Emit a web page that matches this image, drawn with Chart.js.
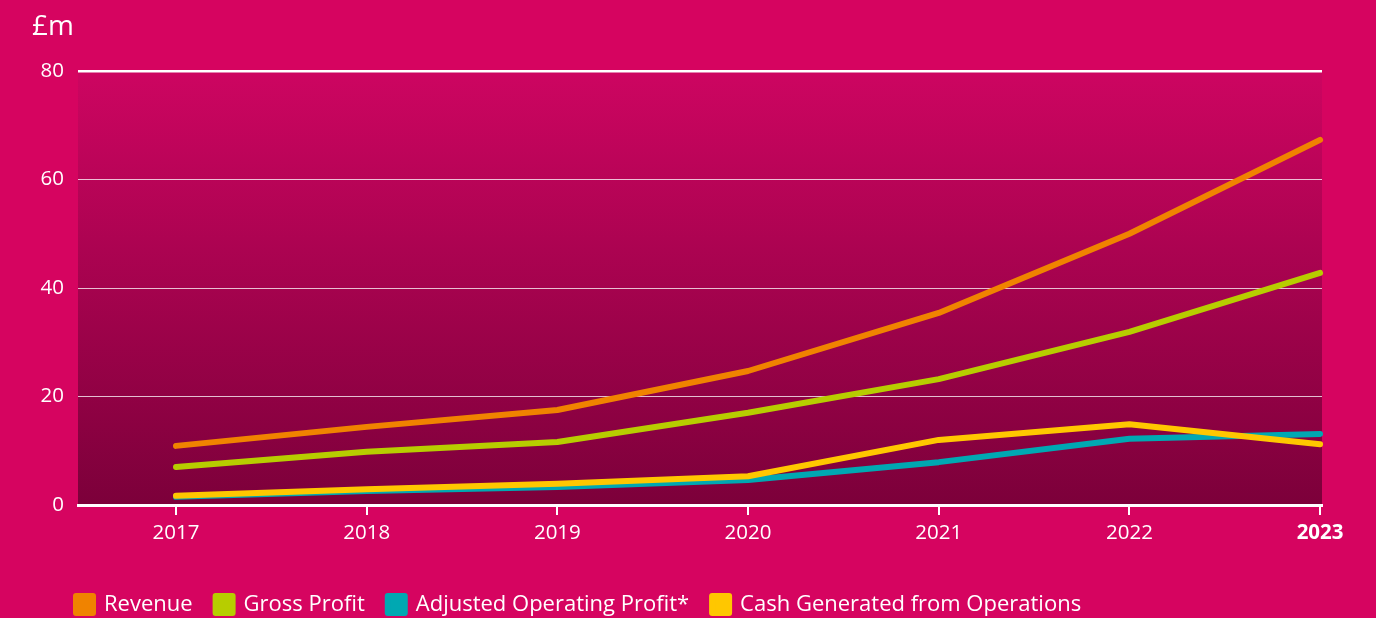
<!DOCTYPE html>
<html><head><meta charset="utf-8">
<script src="https://cdn.jsdelivr.net/npm/chart.js@4.4.1/dist/chart.umd.min.js"></script>
<style>html,body{margin:0;padding:0;background:#d60460;}canvas{display:block;}</style>
</head><body>
<canvas id="c" width="1376" height="618"></canvas>
<script>
const years = [2017, 2018, 2019, 2020, 2021, 2022, 2023];
const revenue = [10.9, 14.4, 17.5, 24.7, 35.4, 50.0, 67.3];
const grossProfit = [7.0, 9.8, 11.6, 17.0, 23.2, 31.9, 42.8];
const adjOperatingProfit = [1.5, 2.6, 3.3, 4.6, 7.9, 12.2, 13.1];
const cashGenerated = [1.7, 2.9, 3.9, 5.3, 12.0, 14.9, 11.2];
const yTicks = [0, 20, 40, 60, 80];
const unitLabel = '£m';

const FONT = '"Open Sans", "DejaVu Sans", sans-serif';
const pts = arr => years.map((y, i) => ({x: y, y: arr[i]}));

const bgPlugin = {
  id: 'bg',
  beforeDraw(chart) {
    const {ctx, chartArea: a} = chart;
    ctx.save();
    const g = ctx.createLinearGradient(0, a.top, 0, a.bottom);
    g.addColorStop(0, '#cd0561');
    g.addColorStop(1, '#7c003a');
    ctx.fillStyle = g;
    ctx.fillRect(a.left, a.top, a.right - a.left, a.bottom - a.top);
    ctx.fillStyle = '#ffffff';
    ctx.font = '28px ' + FONT;
    ctx.textBaseline = 'alphabetic';
    ctx.fillText(unitLabel, 32, 35);
    ctx.restore();
  },
  afterLayout(chart) {
    const lg = chart.legend;
    if (lg) { lg.top += 7.5; lg.bottom += 7.5; lg.left += 53; lg.right += 53; }
  }
};

const mk = (label, data, color, order) => ({
  label, data: pts(data), borderColor: color, backgroundColor: color,
  borderWidth: 6, pointRadius: 0, tension: 0, clip: false,
  borderCapStyle: 'round', borderJoinStyle: 'round', order
});

new Chart(document.getElementById('c'), {
  type: 'line',
  data: {
    datasets: [
      mk('Revenue', revenue, '#f08300', 1),
      mk('Gross Profit', grossProfit, '#b7cd00', 2),
      mk('Adjusted Operating Profit*', adjOperatingProfit, '#00a8b2', 4),
      mk('Cash Generated from Operations', cashGenerated, '#ffc700', 3)
    ]
  },
  options: {
    responsive: false,
    devicePixelRatio: 1,
    animation: false,
    layout: {padding: {left: 0, right: 54, top: 71, bottom: 0}},
    plugins: {
      tooltip: {enabled: false},
      legend: {
        position: 'bottom', align: 'start',
        labels: {
          color: '#ffffff', boxWidth: 17, boxHeight: 17, padding: 23,
          font: {family: FONT, size: 22},
          sort: (a, b) => a.datasetIndex - b.datasetIndex
        }
      }
    },
    scales: {
      x: {
        type: 'linear', min: 2016.486, max: 2023.01,
        afterBuildTicks: s => { s.ticks = years.map(v => ({value: v})); },
        afterFit: s => { s.height = 58; },
        border: {display: true, color: '#ffffff', width: 3},
        grid: {drawOnChartArea: false, drawTicks: true, tickLength: 10, color: '#ffffff', lineWidth: 2},
        ticks: {
          color: '#ffffff', padding: 6, maxRotation: 0, autoSkip: false,
          callback: v => String(v),
          font: c => ({family: FONT, size: 20.5, weight: (c.tick && c.tick.value === 2023) ? 'bold' : 'normal'})
        }
      },
      y: {
        min: 0, max: 80,
        afterBuildTicks: s => { s.ticks = yTicks.map(v => ({value: v})); },
        afterFit: s => { s.width = 78; },
        border: {display: false},
        grid: {
          drawTicks: false,
          color: c => c.tick && c.tick.value === 80 ? '#ffffff' : (c.tick && c.tick.value === 0 ? 'rgba(0,0,0,0)' : 'rgba(255,255,255,0.75)'),
          lineWidth: c => c.tick && c.tick.value === 80 ? 2.5 : 1
        },
        ticks: {color: '#ffffff', padding: 14, font: {family: FONT, size: 20.5}}
      }
    }
  },
  plugins: [bgPlugin]
});
</script>
</body></html>
